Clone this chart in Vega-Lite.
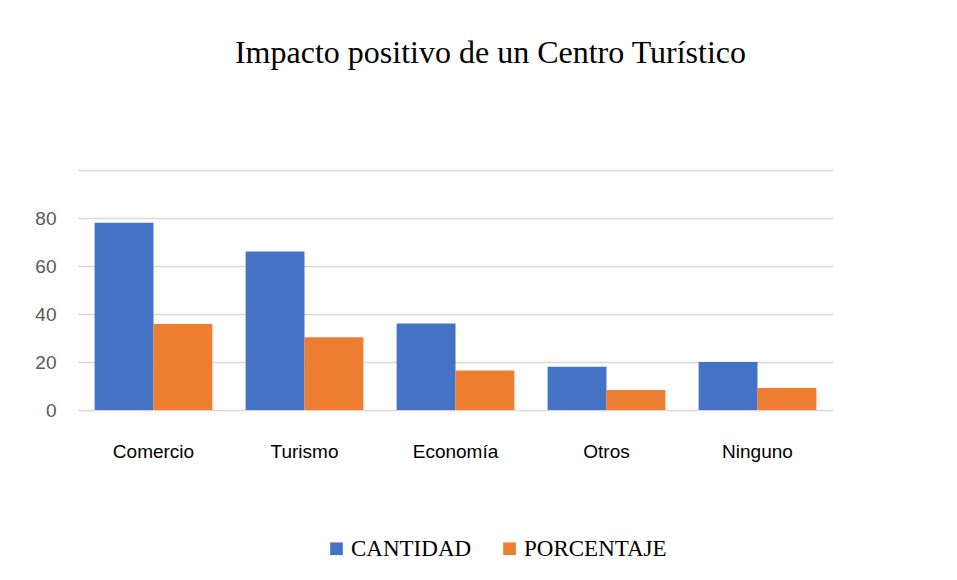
{
  "$schema": "https://vega.github.io/schema/vega-lite/v6.json",
  "autosize": {"type": "none"},
  "width": 755,
  "height": 240,
  "padding": {"left": 78, "top": 170, "right": 124, "bottom": 170},
  "background": "white",
  "title": {
    "text": "Impacto positivo de un Centro Turístico",
    "font": "Liberation Serif",
    "fontSize": 32,
    "fontWeight": "normal",
    "color": "#000000",
    "anchor": "middle",
    "offset": 100,
    "dx": 35
  },
  "data": {
    "values": [
      {"categoria": "Comercio", "serie": "CANTIDAD", "valor": 78},
      {"categoria": "Comercio", "serie": "PORCENTAJE", "valor": 35.8},
      {"categoria": "Turismo", "serie": "CANTIDAD", "valor": 66},
      {"categoria": "Turismo", "serie": "PORCENTAJE", "valor": 30.3},
      {"categoria": "Economía", "serie": "CANTIDAD", "valor": 36},
      {"categoria": "Economía", "serie": "PORCENTAJE", "valor": 16.5},
      {"categoria": "Otros", "serie": "CANTIDAD", "valor": 18},
      {"categoria": "Otros", "serie": "PORCENTAJE", "valor": 8.3},
      {"categoria": "Ninguno", "serie": "CANTIDAD", "valor": 20},
      {"categoria": "Ninguno", "serie": "PORCENTAJE", "valor": 9.2}
    ]
  },
  "mark": {"type": "bar", "strokeWidth": 0},
  "encoding": {
    "x": {
      "field": "categoria",
      "type": "nominal",
      "sort": ["Comercio", "Turismo", "Economía", "Otros", "Ninguno"],
      "scale": {"paddingInner": 0.22, "paddingOuter": 0.11},
      "axis": {
        "title": null,
        "labelAngle": 0,
        "labelFont": "Liberation Sans",
        "labelFontSize": 19,
        "labelColor": "#000000",
        "labelPadding": 32,
        "ticks": false,
        "domain": false
      }
    },
    "xOffset": {
      "field": "serie",
      "type": "nominal",
      "scale": {"paddingInner": 0}
    },
    "y": {
      "field": "valor",
      "type": "quantitative",
      "scale": {"domain": [0, 100]},
      "axis": {
        "title": null,
        "values": [0, 20, 40, 60, 80, 100],
        "labelExpr": "datum.value == 100 ? '' : datum.label",
        "labelFont": "Liberation Sans",
        "labelFontSize": 19,
        "labelColor": "#595959",
        "labelPadding": 22,
        "ticks": false,
        "domain": false,
        "gridColor": "#d9d9d9",
        "gridWidth": 1.5
      }
    },
    "color": {
      "field": "serie",
      "type": "nominal",
      "scale": {"domain": ["CANTIDAD", "PORCENTAJE"], "range": ["#4472C4", "#ED7D31"]},
      "legend": {
        "title": null,
        "orient": "none",
        "direction": "horizontal",
        "legendX": 247,
        "legendY": 367,
        "symbolType": "square",
        "symbolSize": 160,
        "symbolStrokeWidth": 0,
        "labelFont": "Liberation Serif",
        "labelFontSize": 23,
        "labelColor": "#000000",
        "columnPadding": 26,
        "labelOffset": 3
      }
    }
  },
  "config": {"view": {"stroke": null}}
}
